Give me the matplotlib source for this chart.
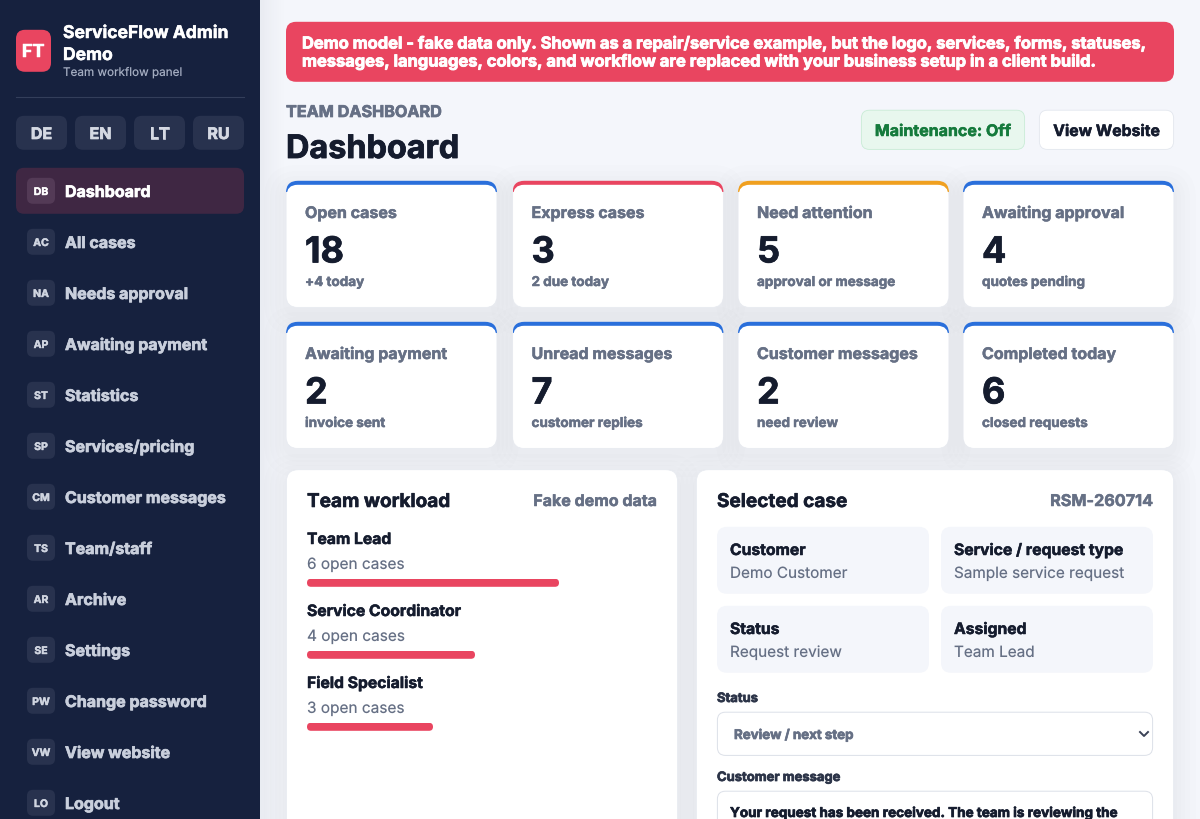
#!/usr/bin/env python3
"""Admin dashboard screenshot redrawn with matplotlib, coordinates in pixels."""

import matplotlib
matplotlib.use('Agg')
import matplotlib.pyplot as plt
import matplotlib.patheffects as pe
from matplotlib.colors import to_rgb
from matplotlib.patches import FancyBboxPatch, Rectangle
import numpy as np

plt.rcParams['font.family'] = ['Inter', 'DejaVu Sans']
plt.rcParams['text.hinting'] = 'no_hinting'
plt.rcParams['text.hinting_factor'] = 1

NAVY = "#16213e"
RED = "#e94560"
BLUE = "#2a6fdb"
AMBER = "#f0a020"
INK = "#151c2e"
GREY = "#667085"
PAGE = "#f4f6fb"
SNAP = 0.8  # boxes land a pixel high otherwise

languages = ["DE", "EN", "LT", "RU"]
nav_codes = ["DB", "AC", "NA", "AP", "ST", "SP", "CM", "TS", "AR", "SE", "PW", "VW", "LO"]
nav_labels = ["Dashboard", "All cases", "Needs approval", "Awaiting payment", "Statistics",
              "Services/pricing", "Customer messages", "Team/staff", "Archive", "Settings",
              "Change password", "View website", "Logout"]

card_titles = ["Open cases", "Express cases", "Need attention", "Awaiting approval",
               "Awaiting payment", "Unread messages", "Customer messages", "Completed today"]
card_values = [18, 3, 5, 4, 2, 7, 2, 6]
card_notes = ["+4 today", "2 due today", "approval or message", "quotes pending",
              "invoice sent", "customer replies", "need review", "closed requests"]
card_colors = [BLUE, RED, AMBER, BLUE, BLUE, BLUE, BLUE, BLUE]

team_names = ["Team Lead", "Service Coordinator", "Field Specialist"]
team_cases = [6, 4, 3]

detail_labels = ["Customer", "Service / request type", "Status", "Assigned"]
detail_values = ["Demo Customer", "Sample service request", "Request review", "Team Lead"]

fig = plt.figure(figsize=(12, 8.2), dpi=100, facecolor=PAGE)
ax = fig.add_axes([0, 0, 1, 1])
ax.set_xlim(0, 1200)
ax.set_ylim(820, 0)
ax.axis("off")


def box(x0, y0, x1, y1, color, r=8, edge="none", lw=0, z=2, alpha=None):
    # keep a drawn border inside the box, as css does
    inset = 0.4 if lw else 0
    p = FancyBboxPatch((x0 + r + inset, y0 + r + SNAP + inset),
                       x1 - x0 - 2 * r - 2 * inset, y1 - y0 - 2 * r - 2 * inset,
                       boxstyle=f"round,pad={r},rounding_size={r}",
                       fc=color, ec=edge, lw=lw, zorder=z, alpha=alpha)
    ax.add_patch(p)
    return p


def label(x, y, s, px, color=INK, weight="normal", ha="left", z=5, heavy=0.35):
    # y is the text baseline, px the css font size
    if weight == "bold":
        y += 1
    t = ax.text(x, y, s, fontsize=px * 0.72, color=color, fontweight=weight,
                ha=ha, va="baseline", zorder=z)
    if weight == "bold":
        # page uses 800 weight, thicken the bold a little
        t.set_path_effects([pe.withStroke(linewidth=heavy, foreground=color)])
    return t


def shadow(x0, y0, x1, y1, r=12):
    for grow in (22, 16, 11, 7, 3):
        box(x0 - grow, y0 - grow + 6, x1 + grow, y1 + grow + 6, "#1a2540",
            r=r + grow, z=1, alpha=0.006)


# sidebar and the soft shadow it throws on the page
fade = np.zeros((1, 28, 4))
fade[..., :3] = to_rgb("#1a2540")
fade[..., 3] = np.linspace(0.07, 0, 28) ** 1.3 * 1.6
ax.imshow(fade, extent=(260, 288, 820, 0), aspect="auto", zorder=1)
ax.set_xlim(0, 1200)
ax.set_ylim(820, 0)
ax.add_patch(Rectangle((0, 0), 260, 820, fc=NAVY, ec="none", zorder=2))

box(16, 30, 51, 72, RED, r=9, z=3)
label(33.5, 57, "FT", 18, "white", "bold", ha="center")
label(63, 38, "ServiceFlow Admin", 17.5, "white", "bold")
label(63, 60, "Demo", 17.5, "white", "bold")
label(63, 76, "Team workflow panel", 11.7, "#a3acc0")
ax.plot([16, 244], [97.5, 97.5], color="#333e5a", lw=0.8, zorder=3)

for i, code in enumerate(languages):
    x0 = 16 + i * 59
    box(x0, 116, x0 + 51, 150, "#28324e", r=8, z=3)
    label(x0 + 25.5, 139, code, 16, "#d5d9e3", "bold", ha="center", heavy=0.5)

box(16, 168, 244, 214, "#3f2743", r=8, z=3)
for i, (code, name) in enumerate(zip(nav_codes, nav_labels)):
    cy = 191 + i * 51
    active = i == 0
    box(27, cy - 13, 55, cy + 13, "#533a56" if active else "#28324e", r=6, z=4)
    label(41, cy + 4, code, 10.5, "white" if active else "#d0d5e0", "bold", ha="center", heavy=0.3)
    label(65, cy + 6, name, 16, "white" if active else "#c9cfdc", "bold", heavy=0.5)

# banner
box(286, 22, 1174, 82, RED, r=10)
label(302, 48.5, "Demo model - fake data only. Shown as a repair/service example, but the logo, services, forms, statuses,",
      16.45, "white", "bold", heavy=0.6)
label(302, 66.5, "messages, languages, colors, and workflow are replaced with your business setup in a client build.",
      16.45, "white", "bold", heavy=0.6)

# page heading
label(286, 117, "TEAM DASHBOARD", 16.2, GREY, "bold", heavy=0.5)
label(286, 158, "Dashboard", 32.4, INK, "bold", heavy=0.6)
box(861, 110, 1025, 150, "#e8f7ee", r=8, edge="#c9ecd6", lw=0.6)
label(943, 136, "Maintenance: Off", 16, "#157a3c", "bold", ha="center")
box(1039, 110, 1174, 150, "white", r=8, edge="#e3e7ee", lw=0.6)
label(1106.5, 136, "View Website", 15.8, INK, "bold", ha="center")

# stat cards: grey outline, colour strip on top, white face over both
card_x = [286, 512.5, 738, 963]
card_y = [181, 322]
for i in range(8):
    x0 = card_x[i % 4]
    y0 = card_y[i // 4]
    x1 = x0 + 211
    y1 = y0 + 127
    shadow(x0, y0, x1, y1)
    box(x0, y0, x1, y1, "white", r=12, z=2, edge="#e8ebf1", lw=0.6)
    strip = box(x0, y0, x1, y1, card_colors[i], r=12, z=2.5)
    strip.set_clip_path(Rectangle((x0, y0), x1 - x0, 12, transform=ax.transData))
    box(x0 + 0.6, y0 + 4, x1 - 0.6, y1 - 1, "white", r=11, z=3)
    label(x0 + 19, y0 + 37, card_titles[i], 16, GREY, "bold")
    label(x0 + 19, y0 + 81.5, str(card_values[i]), 36, INK, "bold", heavy=0.5)
    label(x0 + 19, y0 + 105, card_notes[i], 13.5, GREY, "bold")

# panels run past the bottom of the window
shadow(286, 470, 678, 840)
box(286, 469.5, 678, 840, "white", r=12, edge="#e8ebf1", lw=0.6)
shadow(696, 470, 1174, 840)
box(696, 469.5, 1174, 840, "white", r=12, edge="#e8ebf1", lw=0.6)

label(307, 507, "Team workload", 19, INK, "bold", heavy=0.4)
label(657, 506, "Fake demo data", 16, GREY, "bold", ha="right")

# workload bars get their own axes, 42 px per case
bar_ax = fig.add_axes([307 / 1200, 1 - (739 + SNAP) / 820, 252 / 1200, (739 - 575) / 820])
bar_ax.set_xlim(0, 6)
bar_ax.set_ylim(164, 0)
bar_ax.axis("off")
bar_ax.patch.set_alpha(0)
bar_y = [8, 80, 152]
bars = bar_ax.barh(bar_y, team_cases, height=8, color=RED, zorder=3)
for i, (name, n) in enumerate(zip(team_names, team_cases)):
    top = 538 + i * 72
    label(307, top + 6, name, 15.7, INK, "bold")
    label(307, top + 31, f"{n} open cases", 15.4, GREY)
    # round the bar ends by clipping to a pill of the same length
    x_end = 307 + n * 42
    pill = FancyBboxPatch((307 + 4, top + 41 + 4 + SNAP), x_end - 307 - 8, 0,
                          boxstyle="round,pad=4,rounding_size=4",
                          transform=ax.transData, fc="none", ec="none")
    bars[i].set_clip_path(pill)

# selected case
label(717, 507, "Selected case", 19, INK, "bold", heavy=0.4)
label(1153, 506, "RSM-260714", 16.2, GREY, "bold", ha="right")
tile_x = [717, 941]
tile_y = [527, 606]
for i in range(4):
    x0 = tile_x[i % 2]
    y0 = tile_y[i // 2]
    box(x0, y0, x0 + 212, y0 + 67, PAGE, r=10)
    label(x0 + 13, y0 + 28, detail_labels[i], 15.7, INK, "bold")
    label(x0 + 13, y0 + 51, detail_values[i], 15.3, GREY)

label(717, 702, "Status", 13, "#2c3448", "bold", heavy=0.5)
box(717, 712, 1153, 756, "white", r=8, edge="#dce0e8", lw=0.7)
label(734, 739, "Review / next step", 13.3, GREY, "bold", heavy=0.5)
ax.plot([1140, 1144, 1148], [733, 737, 733], color="#3a4256", lw=1.4, zorder=5)
label(717, 781, "Customer message", 13, "#2c3448", "bold", heavy=0.5)
box(717, 791, 1153, 840, "white", r=8, edge="#dce0e8", lw=0.7)
label(730, 817, "Your request has been received. The team is reviewing the", 13.5, INK, "bold", heavy=0.5)

fig.savefig("out.png", dpi=100, facecolor=PAGE)
plt.close(fig)
